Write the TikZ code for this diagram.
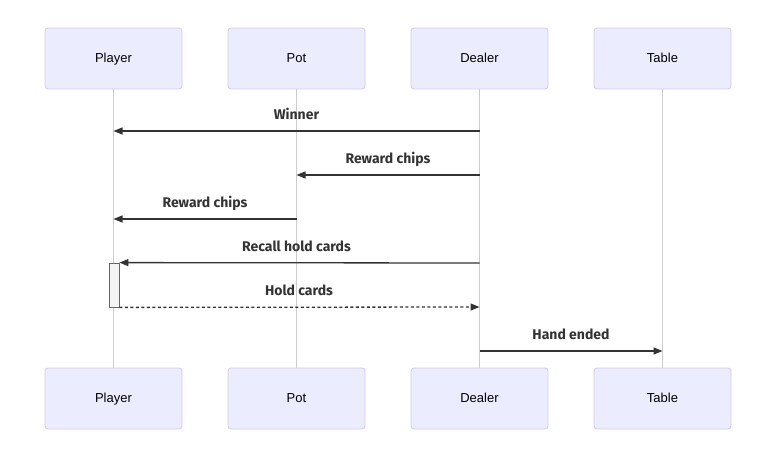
\documentclass[tikz,border=0pt]{standalone}
\usepackage{fontspec}
\setmainfont{Liberation Sans}
\newfontfamily\msgfont{Fira Sans}
\usetikzlibrary{arrows.meta}
\definecolor{actorfill}{HTML}{ECECFF}
\definecolor{actorline}{HTML}{D4C8F4}
\definecolor{lifegray}{HTML}{CCCCCC}
\definecolor{msgcol}{HTML}{333333}
\definecolor{actfill}{HTML}{F4F4F4}
\definecolor{actline}{HTML}{666666}
\begin{document}
\begin{tikzpicture}[x=1pt,y=-1pt,
  actor/.style={draw=actorline, fill=actorfill, rounded corners=3pt, minimum width=137pt, minimum height=61pt, inner sep=0pt, text height=9.4pt, text depth=0.6pt, font=\fontsize{13}{15}\selectfont, text=black, line width=0.8pt},
  life/.style={draw=lifegray, line width=1pt},
  msg/.style={draw=msgcol, line width=1.3pt, -{Triangle[length=9pt,width=7pt]}},
  dotmsg/.style={msg, dash pattern=on 3pt off 2.5pt},
  lbl/.style={font=\msgfont\fontsize{14}{16}\selectfont\bfseries, text=msgcol, inner sep=0pt, text height=10pt, text depth=0.5pt},
  actbox/.style={draw=actline, fill=actfill, line width=0.8pt, minimum width=10pt, minimum height=44pt, inner sep=0pt}]
\useasboundingbox (0,0) rectangle (784,449);
% actors top
\node[actor] (pt) at (113.5,58.5) {Player};
\node[actor] (ot) at (296.5,58.5) {Pot};
\node[actor] (dt) at (479.5,58.5) {Dealer};
\node[actor] (tt) at (662.5,58.5) {Table};
% actors bottom
\node[actor] (pb) at (113.5,398.5) {Player};
\node[actor] (ob) at (296.5,398.5) {Pot};
\node[actor] (db) at (479.5,398.5) {Dealer};
\node[actor] (tb) at (662.5,398.5) {Table};
% lifelines
\draw[life] (pt.south) -- (pb.north);
\draw[life] (ot.south) -- (ob.north);
\draw[life] (dt.south) -- (db.north);
\draw[life] (tt.south) -- (tb.north);
% activation
\node[actbox] (act) at (114,285) {};
% message coordinates
\coordinate (d1) at (479.5,131); \coordinate (p1) at (113.5,131);
\coordinate (d2) at (479.5,175); \coordinate (o2) at (296.5,175);
\coordinate (o3) at (296.5,219); \coordinate (p3) at (113.5,219);
\coordinate (d4) at (479.5,263);
\coordinate (d5) at (479.5,307);
\coordinate (d6) at (479.5,351); \coordinate (t6) at (662.5,351);
% messages
\draw[msg] (d1) -- (p1);
\node[lbl] at (296.5,115) {Winner};
\draw[msg] (d2) -- (o2);
\node[lbl] at (388,158.5) {Reward chips};
\draw[msg] (o3) -- (p3);
\node[lbl] at (205,202.5) {Reward chips};
\draw[msg] (d4) -- (act.north east);
\node[lbl] at (296.5,246.5) {Recall hold cards};
\draw[dotmsg] (act.south east) -- (d5);
\node[lbl] at (299,290.5) {Hold cards};
\draw[msg] (d6) -- (t6);
\node[lbl] at (571,334.5) {Hand ended};
\end{tikzpicture}
\end{document}
